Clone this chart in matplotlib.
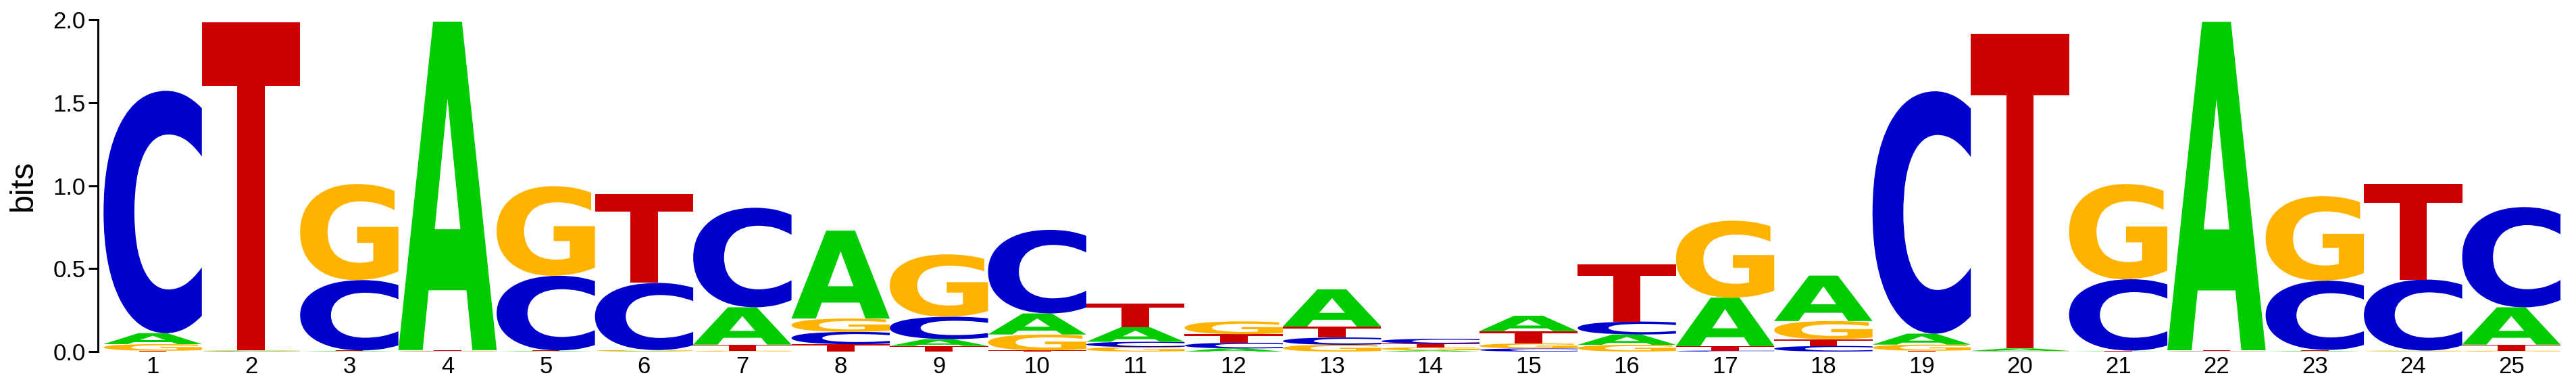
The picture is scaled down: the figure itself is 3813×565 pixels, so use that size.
import numpy as np
import matplotlib
matplotlib.use("Agg")
import matplotlib.pyplot as plt
from matplotlib.textpath import TextPath
from matplotlib.patches import PathPatch
from matplotlib.font_manager import FontProperties
import matplotlib.transforms as mtransforms

# ── Data: information (bits) per base and position ──────────
positions = list(range(1, 26))
bases = ["A", "C", "G", "T"]
A = [0.066, 0.003, 0.003, 1.980, 0.003, 0.003, 0.225, 0.530, 0.041, 0.127,
     0.088, 0.019, 0.224, 0.007, 0.093, 0.062, 0.292, 0.274, 0.066, 0.015,
     0.002, 1.980, 0.003, 0.002, 0.225]
C = [1.461, 0.002, 0.424, 0.002, 0.450, 0.405, 0.600, 0.075, 0.135, 0.504,
     0.032, 0.034, 0.044, 0.029, 0.019, 0.078, 0.006, 0.034, 1.461, 0.002,
     0.430, 0.002, 0.417, 0.428, 0.604]
G = [0.040, 0.003, 0.579, 0.003, 0.540, 0.006, 0.005, 0.080, 0.376, 0.096,
     0.027, 0.077, 0.041, 0.019, 0.030, 0.041, 0.464, 0.109, 0.037, 0.002,
     0.574, 0.002, 0.510, 0.004, 0.005]
T = [0.005, 1.978, 0.004, 0.004, 0.004, 0.535, 0.037, 0.044, 0.034, 0.007,
     0.144, 0.052, 0.066, 0.022, 0.074, 0.343, 0.027, 0.041, 0.005, 1.895,
     0.004, 0.004, 0.007, 0.577, 0.037]
yticks = [0.0, 0.5, 1.0, 1.5, 2.0]

colors = {"A": "#00CC00", "C": "#0000CC", "G": "#FFB300", "T": "#CC0000"}
heights = {"A": A, "C": C, "G": G, "T": T}

# ── Figure ───────────────────────────────────────────────────
W, H = 3813, 565
fig = plt.figure(figsize=(W / 100, H / 100), dpi=100)
x0, x1 = 153.3, 3790
y_top, y_bot = 29.3, 520
ax = fig.add_axes([x0 / W, 1 - y_bot / H, (x1 - x0) / W, (y_bot - y_top) / H])

glyph_font = FontProperties(family="DejaVu Sans", weight="bold")
label_font = "Liberation Sans"


def draw_letter(ax, ch, x, y0, h, color, width=1.0):
    tp = TextPath((0, 0), ch, size=1, prop=glyph_font)
    bb = tp.get_extents()
    t = (mtransforms.Affine2D()
         .translate(-bb.x0, -bb.y0)
         .scale(width / bb.width, h / bb.height)
         .translate(x - width / 2, y0))
    ax.add_patch(PathPatch(t.transform_path(tp), facecolor=color,
                           edgecolor="none", lw=0))


# stack letters smallest at bottom, largest on top
for i, pos in enumerate(positions):
    vals = sorted(((heights[b][i], b) for b in bases))
    bottom = 0.0
    for h, b in vals:
        draw_letter(ax, b, pos, bottom, h, colors[b])
        bottom += h

ax.set_xlim(0.5, 25.5)
ax.set_ylim(0, 2.0)

# ── Axes styling ─────────────────────────────────────────────
for s in ["top", "right", "bottom"]:
    ax.spines[s].set_visible(False)
ax.spines["left"].set_position(("outward", 6))
ax.spines["left"].set_linewidth(2.2)
ax.spines["left"].set_bounds(0, 2.0)

ax.set_yticks(yticks)
ax.set_yticklabels(["{:.1f}".format(v) for v in yticks],
                   fontsize=25, fontfamily=label_font)
ax.tick_params(axis="y", length=10, width=2.2, pad=3)

ax.set_xticks(positions)
ax.set_xticklabels([str(p) for p in positions],
                   fontsize=25, fontfamily=label_font)
ax.tick_params(axis="x", length=0, pad=4)

ax.set_ylabel("bits", fontsize=35, fontfamily=label_font, va="center")
ax.yaxis.set_label_coords(-0.0328, 0.5)

fig.savefig("out.png", dpi=100, facecolor="white")
plt.close(fig)
